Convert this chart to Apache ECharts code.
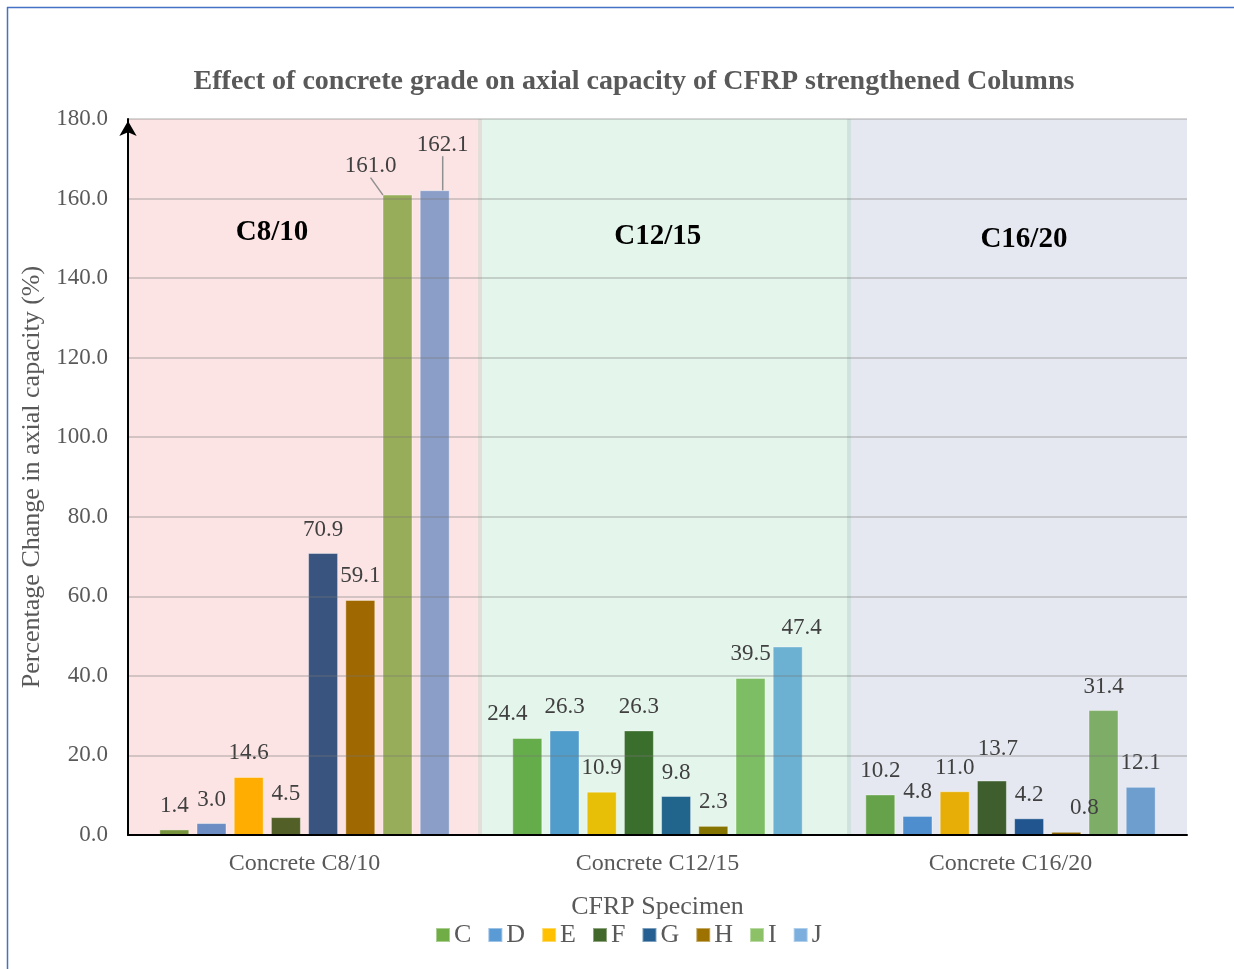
<!DOCTYPE html>
<html>
<head>
<meta charset="utf-8">
<title>Effect of concrete grade on axial capacity of CFRP strengthened Columns</title>
<script src="https://cdn.jsdelivr.net/npm/echarts@6/dist/echarts.min.js"></script>
<style>
  html, body { margin: 0; padding: 0; background: #ffffff; }
  #chart { width: 1234px; height: 969px; }
</style>
</head>
<body>
<div id="chart"></div>
<script>
// Concrete grades on the x axis
const categories = ['Concrete C8/10', 'Concrete C12/15', 'Concrete C16/20'];
// CFRP specimens (one series each)
const specimens = ['C', 'D', 'E', 'F', 'G', 'H', 'I', 'J'];

// Percentage change in axial capacity, per specimen, for C8/10, C12/15, C16/20
const valuesC = [1.4, 24.4, 10.2];
const valuesD = [3.0, 26.3, 4.8];
const valuesE = [14.6, 10.9, 11.0];
const valuesF = [4.5, 26.3, 13.7];
const valuesG = [70.9, 9.8, 4.2];
const valuesH = [59.1, 2.3, 0.8];
const valuesI = [161.0, 39.5, 31.4];
const valuesJ = [162.1, 47.4, 12.1];

// Y axis ticks
const yTicks = [0, 20, 40, 60, 80, 100, 120, 140, 160, 180];

// Grade headings drawn inside each shaded panel
const gradeHeadings = ['C8/10', 'C12/15', 'C16/20'];

const seriesValues = [valuesC, valuesD, valuesE, valuesF, valuesG, valuesH, valuesI, valuesJ];

// Styling ---------------------------------------------------------------
const legendColors = ['#70AD47', '#5B9BD5', '#FFC000', '#43682B', '#255E91', '#9E7200', '#8CC168', '#7CAFDD'];
// bar colours per specimen, one per concrete grade
const barColors = [
  ['#77933C', '#64AD4A', '#66A24A'],
  ['#6B8DC4', '#509CCB', '#4E8ECE'],
  ['#FFAD00', '#E7BF07', '#E6AE06'],
  ['#525F27', '#3A6E2C', '#3E5E2E'],
  ['#39557F', '#21648C', '#20558F'],
  ['#A06800', '#857500', '#8A6400'],
  ['#98AD5A', '#7DBE64', '#7DAD66'],
  ['#8A9EC8', '#6CB0D2', '#6E9ECE']
];
// shaded panels behind the groups, in units of the category band (0..3)
const panelSpans = [[0, 0.991], [1.003, 2.037], [2.048, 3]];
const panelColors = ['#FDE4E4', '#E4F5EC', '#E5E8F1'];
const dividerSpans = [[0.991, 1.003], [2.037, 2.048]];
const dividerColors = ['#E4DED8', '#CFE2DC'];
// heading anchor points [x in category units, y in axis units]
const headingAnchors = [[0.408, 151.4], [1.501, 150.4], [2.538, 149.6]];

// label nudges [dx, dy] keyed by specimen index then grade index
const labelNudge = {
  '0-1': [-20, 0],
  '3-2': [6, -8],
  '5-2': [18, 0],
  '7-1': [14, 5],
  '6-0': [-27, -5],
  '7-0': [8, -22]
};
const leaderKeys = ['6-0', '7-0'];

const SERIF = '"Liberation Serif", "Times New Roman", serif';
const GREY = '#595959';

const chart = echarts.init(document.getElementById('chart'), null, { renderer: 'canvas' });

const barSeries = specimens.map(function (name, si) {
  return {
    name: name,
    type: 'bar',
    xAxisIndex: 0,
    yAxisIndex: 0,
    barWidth: 30,
    barGap: '24%',
    z: 3,
    itemStyle: { color: legendColors[si], borderColor: 'rgba(255,255,255,0.4)', borderWidth: 1 },
    label: {
      show: true,
      position: 'top',
      distance: 12,
      fontFamily: SERIF,
      fontSize: 23,
      color: '#404040',
      formatter: function (p) { return Number(p.value).toFixed(1); }
    },
    labelLayout: function (params) {
      const n = labelNudge[si + '-' + params.dataIndex];
      return n ? { dx: n[0], dy: n[1] } : {};
    },
    data: seriesValues[si].map(function (v, gi) {
      const item = { value: v, itemStyle: { color: barColors[si][gi] } };
      if (leaderKeys.indexOf(si + '-' + gi) >= 0) {
        item.labelLine = { show: true, lineStyle: { color: '#909090', width: 1.5 } };
      } else {
        item.labelLine = { show: false };
      }
      return item;
    })
  };
});

// Panels, dividers and headings drawn on the hidden value axis
const panelSeries = {
  type: 'custom',
  xAxisIndex: 1,
  yAxisIndex: 0,
  z: -5,
  silent: true,
  data: [0, 1, 2],
  renderItem: function (params, api) {
    const i = api.value(0);
    const span = panelSpans[i];
    const p0 = api.coord([span[0], 180]);
    const p1 = api.coord([span[1], 0]);
    const children = [{
      type: 'rect',
      shape: { x: p0[0], y: p0[1], width: p1[0] - p0[0], height: p1[1] - p0[1] },
      style: { fill: panelColors[i] }
    }];
    if (i < dividerSpans.length) {
      const d0 = api.coord([dividerSpans[i][0], 180]);
      const d1 = api.coord([dividerSpans[i][1], 0]);
      children.push({
        type: 'rect',
        shape: { x: d0[0], y: d0[1], width: d1[0] - d0[0], height: d1[1] - d0[1] },
        style: { fill: dividerColors[i] }
      });
    }
    const h = api.coord(headingAnchors[i]);
    children.push({
      type: 'text',
      x: h[0],
      y: h[1],
      style: {
        text: gradeHeadings[i],
        fontFamily: SERIF,
        fontWeight: 'bold',
        fontSize: 29,
        fill: '#000000',
        align: 'center',
        verticalAlign: 'middle'
      }
    });
    return { type: 'group', children: children };
  }
};

const option = {
  backgroundColor: '#ffffff',
  animation: false,
  title: {
    text: 'Effect of concrete grade on axial capacity of CFRP strengthened Columns',
    left: 629,
    textAlign: 'center',
    top: 63,
    textStyle: { fontFamily: SERIF, fontWeight: 'bold', fontSize: 28, color: GREY }
  },
  legend: {
    data: specimens.map(function (s, i) { return { name: s, itemStyle: { color: legendColors[i] } }; }),
    left: 430,
    top: 917,
    icon: 'rect',
    itemWidth: 14,
    itemHeight: 14,
    itemGap: 16,
    textStyle: { fontFamily: SERIF, fontSize: 26, color: GREY, padding: [0, 0, 0, -1] }
  },
  grid: { left: 128, right: 47, top: 119, bottom: 134, containLabel: false },
  xAxis: [{
    type: 'category',
    data: categories,
    name: 'CFRP Specimen',
    nameLocation: 'middle',
    nameGap: 59,
    nameTextStyle: { fontFamily: SERIF, fontSize: 26, color: GREY },
    axisLine: { lineStyle: { color: '#000000', width: 2 } },
    axisTick: { show: false },
    axisLabel: { fontFamily: SERIF, fontSize: 24, color: GREY, margin: 17 },
    z: 5
  }, {
    type: 'value',
    min: 0,
    max: 3,
    show: false
  }],
  yAxis: [{
    type: 'value',
    min: yTicks[0],
    max: yTicks[yTicks.length - 1],
    interval: 20,
    name: 'Percentage Change in axial capacity (%)',
    nameLocation: 'middle',
    nameGap: 82,
    nameTextStyle: { fontFamily: SERIF, fontSize: 26, color: GREY },
    axisLine: {
      show: true,
      lineStyle: { color: '#000000', width: 2 },
      symbol: ['none', 'arrow'],
      symbolSize: [13, 15],
      symbolOffset: [0, -2]
    },
    axisTick: { show: false },
    axisLabel: {
      fontFamily: SERIF,
      fontSize: 23,
      color: GREY,
      margin: 20,
      formatter: function (v) { return v.toFixed(1); }
    },
    splitLine: { lineStyle: { color: 'rgba(120,120,120,0.3)', width: 2 } },
    z: 5
  }],
  graphic: [
    { type: 'line', shape: { x1: 7, y1: 7.5, x2: 1234, y2: 7.5 }, style: { stroke: '#4472C4', lineWidth: 1.5 } },
    { type: 'line', shape: { x1: 7.5, y1: 7, x2: 7.5, y2: 969 }, style: { stroke: '#4472C4', lineWidth: 1.5 } }
  ],
  series: [panelSeries].concat(barSeries)
};

chart.setOption(option);
</script>
</body>
</html>
